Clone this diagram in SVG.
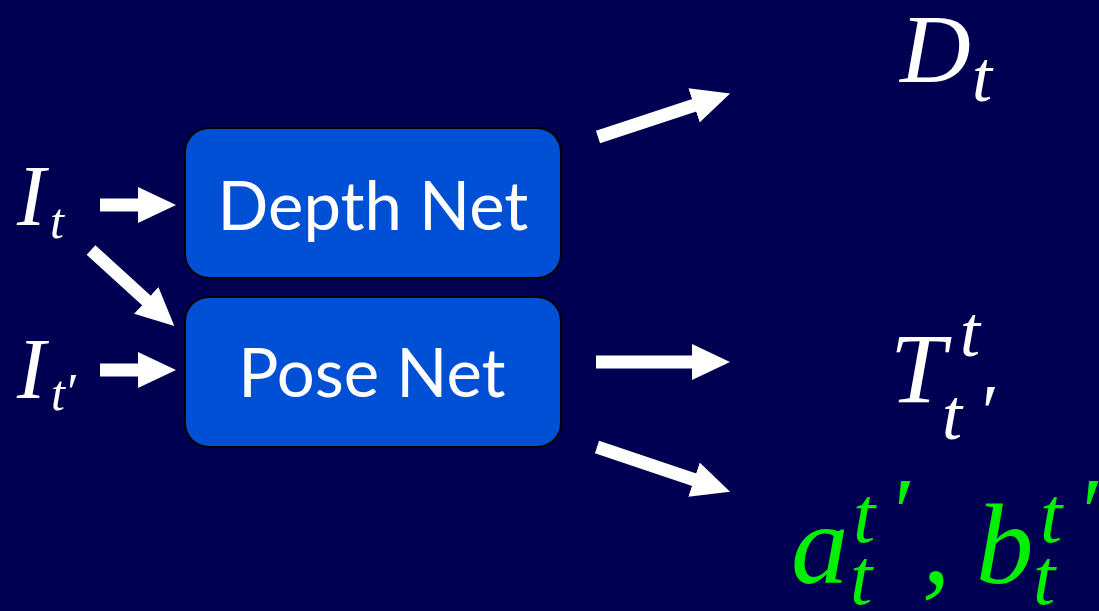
<svg xmlns="http://www.w3.org/2000/svg" width="1099" height="611" viewBox="0 0 1099 611">
  <defs>
    <marker id="head" markerUnits="userSpaceOnUse" markerWidth="38" markerHeight="36" viewBox="0 0 38 36" refX="1" refY="18" orient="auto">
      <path d="M0,0 L38,18 L0,36 z" fill="#ffffff"/>
    </marker>
    <style>
      .box { fill: #0050d6; stroke: #000000; stroke-width: 2; }
      .label { font-family: Lato, "Open Sans", sans-serif; font-size: 67px; fill: #ffffff; text-anchor: middle; }
      .math { font-family: "Liberation Serif", "DejaVu Serif", serif; font-style: italic; fill: #ffffff; }
      .green { fill: #00f000; }
      .conn { stroke: #ffffff; stroke-width: 13; fill: none; marker-end: url(#head); }
    </style>
  </defs>
  <rect x="0" y="0" width="1099" height="611" fill="#000052"/>

  <g id="connectors">
    <line class="conn" x1="100" y1="205" x2="139" y2="205"/>
    <line class="conn" x1="100" y1="370" x2="139" y2="370"/>
    <line class="conn" x1="91" y1="250" x2="147" y2="301"/>
    <line class="conn" x1="598" y1="137" x2="695" y2="105"/>
    <line class="conn" x1="596" y1="362" x2="693" y2="362"/>
    <line class="conn" x1="597" y1="447" x2="695" y2="480"/>
  </g>

  <g id="depth-net">
    <rect class="box" x="185" y="128" width="376" height="150" rx="24"/>
    <text class="label" x="373" y="230">Depth Net</text>
  </g>

  <g id="pose-net">
    <rect class="box" x="185" y="297" width="376" height="150" rx="24"/>
    <text class="label" x="372" y="397">Pose Net</text>
  </g>

  <g id="input-it">
    <text class="math"><tspan x="17" y="225" font-size="86">I</tspan><tspan x="50" y="238" font-size="50">t</tspan></text>
  </g>

  <g id="input-itp">
    <text class="math"><tspan x="17" y="398" font-size="86">I</tspan><tspan x="51" y="410" font-size="50">t</tspan><tspan x="64" y="410" font-size="53">′</tspan></text>
  </g>

  <g id="output-dt">
    <text class="math"><tspan x="900" y="82" font-size="98">D</tspan><tspan x="972" y="101" font-size="72">t</tspan></text>
  </g>

  <g id="output-t">
    <text class="math"><tspan x="890" y="402" font-size="100">T</tspan><tspan x="960" y="356" font-size="72">t</tspan><tspan x="942" y="439" font-size="72">t</tspan><tspan x="977" y="438" font-size="78">′</tspan></text>
  </g>

  <g id="output-ab">
    <text class="math green"><tspan x="791" y="583" font-size="115">a</tspan><tspan x="853" y="542" font-size="80">t</tspan><tspan x="888" y="545" font-size="97">′</tspan><tspan x="850" y="604" font-size="80">t</tspan><tspan x="922" y="583" font-size="115">,</tspan><tspan x="976" y="583" font-size="115">b</tspan><tspan x="1040" y="542" font-size="80">t</tspan><tspan x="1076" y="545" font-size="97">′</tspan><tspan x="1033" y="604" font-size="80">t</tspan></text>
  </g>
</svg>
